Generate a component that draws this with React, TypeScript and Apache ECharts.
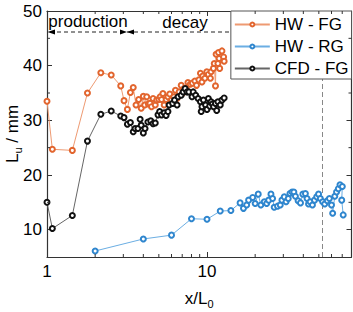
import React, { useEffect, useRef } from "react";
import * as echarts from "echarts";

const hwFgX = [1.0, 1.08, 1.44, 1.79, 2.17, 2.52, 2.89, 3.03, 3.18, 3.32, 3.46, 3.6, 3.74, 3.88, 4.0, 4.08, 4.2, 4.3, 4.4, 4.5, 4.6, 4.75, 4.85, 5.0, 5.1, 5.2, 5.3, 5.4, 5.56, 5.7, 5.85, 6.0, 6.2, 6.35, 6.5, 6.7, 6.9, 7.05, 7.2, 7.4, 7.6, 7.86, 8.1, 8.4, 8.6, 8.9, 9.1, 9.3, 9.4, 9.7, 9.97, 10.2, 10.5, 10.6, 10.97, 11.1, 11.3, 11.4, 11.7, 11.8, 11.9, 12.0, 12.4, 12.7, 12.8];
const hwFgY = [33.5, 24.7, 24.5, 35.0, 38.7, 38.3, 36.3, 33.6, 32.0, 35.1, 36.0, 32.8, 33.8, 32.2, 34.4, 32.8, 34.3, 33.0, 33.1, 32.5, 34.0, 32.8, 33.7, 33.8, 34.3, 33.8, 34.9, 32.8, 33.8, 34.3, 34.8, 33.7, 34.3, 35.5, 34.0, 35.2, 36.4, 35.0, 35.8, 35.8, 36.9, 36.6, 36.8, 37.2, 36.4, 37.4, 38.6, 37.0, 38.1, 37.7, 38.9, 38.4, 37.7, 38.9, 39.5, 40.4, 36.3, 42.1, 40.4, 42.4, 41.3, 39.5, 42.7, 41.6, 40.8];

const hwRgX = [2.0, 4.0, 6.0, 8.0, 10.0, 12.1, 14.1, 16.1, 16.9, 17.7, 18.2, 19.3, 20.0, 20.9, 21.7, 22.8, 23.6, 24.3, 25.1, 25.7, 26.3, 27.6, 28.7, 29.4, 30.4, 31.2, 32.2, 33.0, 34.0, 34.9, 35.7, 37.1, 38.4, 39.7, 41.2, 42.2, 43.1, 44.1, 45.6, 47.0, 48.5, 49.8, 51.1, 52.8, 54.4, 56.5, 58.2, 60.0, 61.0, 62.9, 64.5, 66.2, 67.8, 70.1, 69.5, 71.0];
const hwRgY = [6.1, 8.3, 9.0, 12.0, 11.9, 13.4, 13.5, 14.9, 13.9, 14.5, 15.4, 15.9, 14.8, 16.5, 14.5, 15.1, 14.8, 15.4, 16.5, 15.7, 14.1, 14.3, 14.5, 15.4, 16.0, 15.1, 15.7, 16.6, 16.9, 16.9, 16.1, 15.3, 14.9, 16.5, 16.6, 15.7, 14.7, 15.1, 14.5, 15.4, 16.0, 16.5, 15.7, 15.1, 14.7, 15.3, 15.7, 14.5, 13.0, 16.1, 16.9, 17.5, 18.2, 17.9, 15.4, 12.7];

const cfdFgX = [1.0, 1.08, 1.44, 1.79, 2.17, 2.52, 2.89, 3.03, 3.18, 3.32, 3.46, 3.55, 3.7, 3.82, 3.88, 4.0, 4.1, 4.27, 4.45, 4.6, 4.75, 4.94, 5.06, 5.2, 5.4, 5.55, 5.7, 5.8, 6.1, 6.27, 6.5, 6.6, 6.9, 7.1, 7.3, 7.5, 7.7, 8.06, 8.2, 8.5, 8.8, 9.1, 9.2, 9.3, 9.5, 9.8, 10.0, 10.2, 10.4, 10.6, 10.8, 11.0, 11.3, 11.5, 11.7, 12.1, 12.4, 12.8];
const cfdFgY = [15.0, 10.2, 12.6, 26.2, 31.1, 31.7, 30.8, 30.5, 29.3, 29.6, 27.9, 28.5, 28.5, 30.2, 29.1, 27.7, 28.5, 29.7, 29.9, 29.4, 29.5, 31.0, 31.6, 31.0, 31.4, 30.9, 31.6, 32.8, 33.1, 33.7, 32.8, 34.3, 34.6, 35.2, 35.8, 35.2, 35.2, 34.3, 35.2, 34.6, 34.0, 33.4, 31.6, 32.5, 33.7, 32.8, 32.0, 34.0, 32.6, 33.4, 33.0, 32.5, 33.1, 31.8, 33.4, 32.8, 33.7, 34.1];

const xMajorTicks = [1, 10];
const xMinorTicks = [2, 3, 4, 5, 6, 7, 8, 9, 20, 30, 40, 50, 60, 70];
const yMajorTicks = [10, 20, 30, 40, 50];
const yMinorTicks = [15, 25, 35, 45];
const xMarkerLine = 52.5;

const X_MIN = 1;
const X_MAX = 80;
const Y_MIN = 5;
const Y_MAX = 50;

const zip = (xs: number[], ys: number[]) => xs.map((x, i) => [x, ys[i]]);

const FONT = "Liberation Sans, Arial, sans-serif";
const AXIS_COLOR = "#333";

export default function App() {
  const ref = useRef<HTMLDivElement>(null);
  useEffect(() => {
    if (!ref.current) return;
    const chart = echarts.init(ref.current, null, { renderer: "svg" });
    const tickX = (params: any, api: any) => {
      const v = api.value(0);
      const b = api.coord([v, Y_MIN]);
      const t = api.coord([v, Y_MAX]);
      return {
        type: "group",
        children: [
          { type: "line", shape: { x1: b[0], y1: b[1], x2: b[0], y2: b[1] - 3 }, style: { stroke: AXIS_COLOR, lineWidth: 1 } },
          { type: "line", shape: { x1: t[0], y1: t[1], x2: t[0], y2: t[1] + 3 }, style: { stroke: AXIS_COLOR, lineWidth: 1 } },
        ],
      };
    };
    const tickY = (params: any, api: any) => {
      const v = api.value(1);
      const l = api.coord([X_MIN, v]);
      const r = api.coord([X_MAX, v]);
      return {
        type: "group",
        children: [
          { type: "line", shape: { x1: l[0], y1: l[1], x2: l[0] + 3, y2: l[1] }, style: { stroke: AXIS_COLOR, lineWidth: 1 } },
          { type: "line", shape: { x1: r[0], y1: r[1], x2: r[0] - 3, y2: r[1] }, style: { stroke: AXIS_COLOR, lineWidth: 1 } },
        ],
      };
    };
    const axisCommon = {
      axisLine: { show: true, lineStyle: { color: AXIS_COLOR, width: 1.2 } },
      splitLine: { show: false },
    };
    chart.setOption({
      animation: false,
      backgroundColor: "#fff",
      textStyle: { fontFamily: FONT },
      grid: { left: 47, top: 11, right: 1.5, bottom: 55, containLabel: false, outerBoundsMode: "none" },
      xAxis: [
        {
          type: "log",
          logBase: 10,
          min: X_MIN,
          max: X_MAX,
          position: "bottom",
          ...axisCommon,
          axisTick: { show: true, inside: true, length: 5, customValues: xMajorTicks, lineStyle: { color: AXIS_COLOR } },
          axisLabel: { show: true, customValues: xMajorTicks, margin: 6, fontSize: 17, color: "#000", fontFamily: FONT, formatter: (v: number) => String(Math.round(v)) },
          name: "{a|x/L}{s|0}",
          nameLocation: "middle",
          nameGap: 30,
          nameMoveOverlap: false,
          nameTextStyle: {
            fontFamily: FONT,
            color: "#000",
            rich: {
              a: { fontSize: 17, fontFamily: FONT, color: "#000", lineHeight: 22, verticalAlign: "middle" },
              s: { fontSize: 11, fontFamily: FONT, color: "#000", lineHeight: 11, verticalAlign: "bottom" },
            },
          },
        },
        {
          type: "log",
          logBase: 10,
          min: X_MIN,
          max: X_MAX,
          position: "top",
          ...axisCommon,
          axisTick: { show: true, inside: true, length: 5, customValues: xMajorTicks, lineStyle: { color: AXIS_COLOR } },
          axisLabel: { show: false },
        },
      ],
      yAxis: [
        {
          type: "value",
          min: Y_MIN,
          max: Y_MAX,
          position: "left",
          ...axisCommon,
          axisTick: { show: true, inside: true, length: 5, customValues: yMajorTicks, lineStyle: { color: AXIS_COLOR } },
          axisLabel: { show: true, customValues: yMajorTicks, margin: 5, fontSize: 17, color: "#000", fontFamily: FONT },
          name: "{a|L}{s|u}{a| / mm}",
          nameLocation: "middle",
          nameGap: 24,
          nameMoveOverlap: false,
          nameTextStyle: {
            fontFamily: FONT,
            color: "#000",
            rich: {
              a: { fontSize: 17, fontFamily: FONT, color: "#000", lineHeight: 22, verticalAlign: "middle" },
              s: { fontSize: 11, fontFamily: FONT, color: "#000", lineHeight: 11, verticalAlign: "bottom" },
            },
          },
        },
        {
          type: "value",
          min: Y_MIN,
          max: Y_MAX,
          position: "right",
          ...axisCommon,
          axisTick: { show: true, inside: true, length: 5, customValues: yMajorTicks, lineStyle: { color: AXIS_COLOR } },
          axisLabel: { show: false },
        },
      ],
      legend: {
        data: ["HW - FG", "HW - RG", "CFD - FG"],
        orient: "vertical",
        right: 1.5,
        top: 11,
        padding: [5, 3, 2, 3],
        itemGap: 5,
        itemWidth: 35,
        itemHeight: 5,
        backgroundColor: "#fff",
        borderColor: "#555",
        borderWidth: 1,
        borderRadius: 0,
        textStyle: { fontSize: 17, color: "#000", fontFamily: FONT },
      },
      series: [
        {
          name: "HW - FG",
          type: "line",
          data: zip(hwFgX, hwFgY),
          symbol: "emptyCircle",
          symbolSize: 5,
          itemStyle: { color: "#E2652E", borderWidth: 1.1 },
          lineStyle: { color: "#EE9A72", width: 1 },
          z: 3,
        },
        {
          name: "HW - RG",
          type: "line",
          data: zip(hwRgX, hwRgY),
          symbol: "emptyCircle",
          symbolSize: 5,
          itemStyle: { color: "#2F86CE", borderWidth: 1.1 },
          lineStyle: { color: "#6BAEE3", width: 1 },
          z: 3,
          markLine: {
            silent: true,
            symbol: "none",
            label: { show: false },
            lineStyle: { color: "#888", type: [5, 3], width: 1 },
            data: [{ xAxis: xMarkerLine }],
            z: 1,
          },
        },
        {
          name: "CFD - FG",
          type: "line",
          data: zip(cfdFgX, cfdFgY),
          symbol: "emptyCircle",
          symbolSize: 5,
          itemStyle: { color: "#111", borderWidth: 1.1 },
          lineStyle: { color: "#666", width: 1 },
          z: 3,
        },
        {
          type: "custom",
          silent: true,
          clip: false,
          data: xMinorTicks.map((v) => [v, Y_MIN]),
          renderItem: tickX,
          z: 5,
        },
        {
          type: "custom",
          silent: true,
          clip: false,
          data: yMinorTicks.map((v) => [X_MIN, v]),
          renderItem: tickY,
          z: 5,
        },
      ],
      graphic: [
        { type: "line", shape: { x1: 50, y1: 32, x2: 232, y2: 32 }, style: { stroke: "#222", lineWidth: 1, lineDash: [4, 3] }, z: 10 },
        { type: "polygon", shape: { points: [[47.5, 32], [55, 29.5], [55, 34.5]] }, style: { fill: "#000" }, z: 10 },
        { type: "polygon", shape: { points: [[127, 32], [120, 29.5], [120, 34.5]] }, style: { fill: "#000" }, z: 10 },
        { type: "polygon", shape: { points: [[127, 32], [134, 29.5], [134, 34.5]] }, style: { fill: "#000" }, z: 10 },
        { type: "text", x: 88, y: 21, style: { text: "production", fontSize: 17, fontFamily: FONT, fill: "#000", align: "center", verticalAlign: "middle" }, z: 10 },
        { type: "text", x: 185, y: 22, style: { text: "decay", fontSize: 17, fontFamily: FONT, fill: "#000", align: "center", verticalAlign: "middle" }, z: 10 },
      ],
    });
    return () => chart.dispose();
  }, []);
  return <div ref={ref} style={{ position: "fixed", left: 0, top: 0, width: 353, height: 312 }} />;
}
